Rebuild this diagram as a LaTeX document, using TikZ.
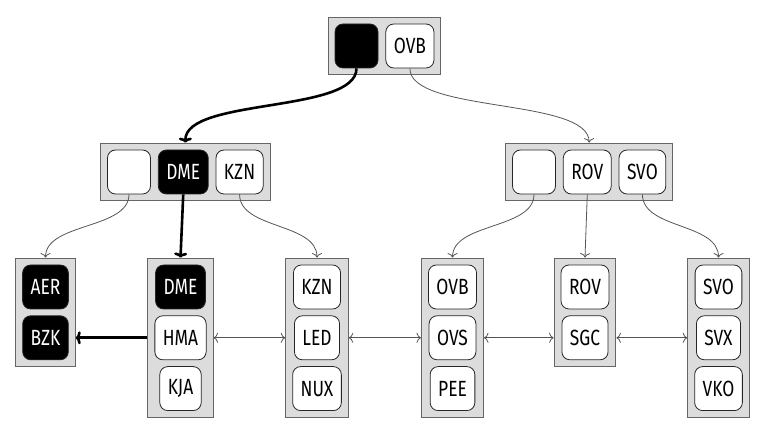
\documentclass[tikz,border=0pt]{standalone}
\usepackage{fontspec}
\setmainfont{Fira Sans}[FakeStretch=0.79]
\usetikzlibrary{positioning,arrows.meta,fit,backgrounds}
\definecolor{cPage}{HTML}{DCDCDC}
\definecolor{cFrame}{HTML}{666666}
\definecolor{cLink}{HTML}{555555}
\tikzset{
  key/.style={rounded corners=8pt,draw=black!85,fill=white,line width=0.8pt,minimum height=44pt,inner xsep=8pt,font=\fontsize{22}{25}\selectfont},
  ekey/.style={key,minimum width=43pt},
  hkey/.style={key,fill=black,text=white},
  page/.style={draw=cFrame,fill=cPage,line width=1pt,inner sep=6.5pt},
  ptr/.style={-{To[length=4.5pt,width=10pt]},line width=0.8pt,draw=cLink},
  sib/.style={{To[length=4.5pt,width=10pt]}-{To[length=4.5pt,width=10pt]},line width=0.8pt,draw=cLink},
  hptr/.style={-{To[length=5pt,width=13pt]},line width=2.6pt}}
\begin{document}
\begin{tikzpicture}[x=1pt,y=1pt,node distance=7pt]
\useasboundingbox (0,0) rectangle (765,433);
% root page
\node[hkey,minimum width=43pt] (t0) at (356.5,387) {};
\node[key,right=of t0] (t1) {OVB};
% inner pages
\node[ekey] (a0) at (129,261) {};
\node[hkey,right=of a0] (a1) {DME};
\node[key,right=of a1] (a2) {KZN};
\node[ekey] (b0) at (534,261) {};
\node[key,right=of b0] (b1) {ROV};
\node[key,right=of b1] (b2) {SVO};
% leaf pages
\node[hkey] (aer) at (45.5,146) {AER};
\node[hkey,below=6pt of aer] (bzk) {BZK};
\node[hkey] (dme) at (180.5,146) {DME};
\node[key,below=6pt of dme] (hma) {HMA};
\node[key,below=6pt of hma] (kja) {KJA};
\node[key] (kzn) at (317,146) {KZN};
\node[key,below=6pt of kzn] (led) {LED};
\node[key,below=6pt of led] (nux) {NUX};
\node[key] (ovb) at (452.5,146) {OVB};
\node[key,below=6pt of ovb] (ovs) {OVS};
\node[key,below=6pt of ovs] (pee) {PEE};
\node[key] (rov) at (585,146) {ROV};
\node[key,below=6pt of rov] (sgc) {SGC};
\node[key] (svo) at (718.5,146) {SVO};
\node[key,below=6pt of svo] (svx) {SVX};
\node[key,below=6pt of svx] (vko) {VKO};
\begin{scope}[on background layer]
  \node[page,fit=(t0)(t1)] (pT) {};
  \node[page,fit=(a0)(a2)] (pA) {};
  \node[page,fit=(b0)(b2)] (pB) {};
  \node[page,fit=(aer)(bzk)] (qA) {};
  \node[page,fit=(dme)(hma)(kja)] (qD) {};
  \node[page,fit=(kzn)(nux)] (qK) {};
  \node[page,fit=(ovb)(pee)] (qO) {};
  \node[page,fit=(rov)(sgc)] (qR) {};
  \node[page,fit=(svo)(vko)] (qS) {};
\end{scope}
% search path
\draw[hptr] (t0.south) .. controls +(0,-45) and +(0,45) .. (pA.north);
\draw[hptr] (a1.south) -- (qD.north);
\draw[hptr] (qD.west |- hma) -- (qA.east |- bzk);
% other pointers
\draw[ptr] (t1.south) .. controls +(0,-45) and +(0,45) .. (pB.north);
\draw[ptr] (a0.south) .. controls +(0,-35) and +(0,35) .. (qA.north);
\draw[ptr] (a2.south) .. controls +(0,-35) and +(0,35) .. (qK.north);
\draw[ptr] (b0.south) .. controls +(0,-35) and +(0,35) .. (qO.north);
\draw[ptr] (b1.south) -- (qR.north);
\draw[ptr] (b2.south) .. controls +(0,-35) and +(0,35) .. (qS.north);
% siblings
\draw[sib] (qD.east |- hma) -- (qK.west |- led);
\draw[sib] (qK.east |- led) -- (qO.west |- ovs);
\draw[sib] (qO.east |- ovs) -- (qR.west |- sgc);
\draw[sib] (qR.east |- sgc) -- (qS.west |- svx);
\end{tikzpicture}
\end{document}
